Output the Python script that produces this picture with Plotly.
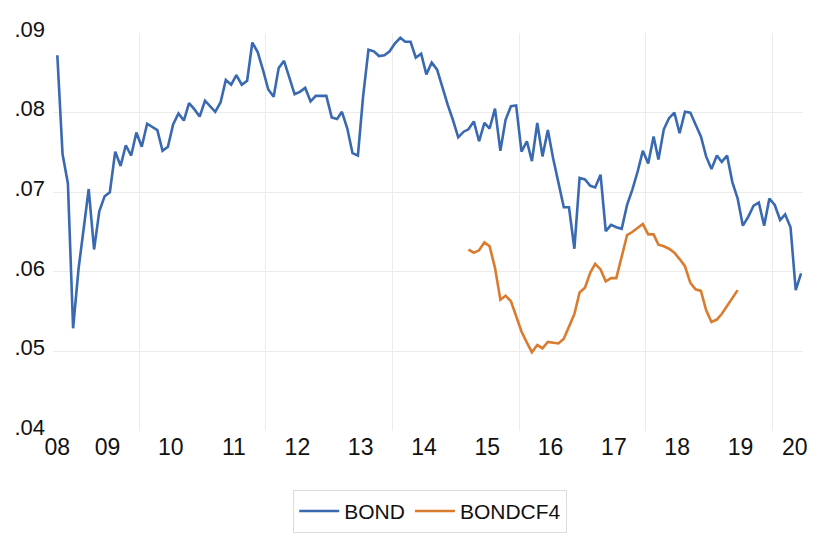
import pandas as pd
import plotly.graph_objects as go

# Monthly observations, Sep 2008 .. Jun 2020
start_month = "2008-09-01"
n_bond = 142

bond = [
    0.0872, 0.0748, 0.0711, 0.0529, 0.0603, 0.0655, 0.0704, 0.0628, 0.0676, 0.0695,
    0.0700, 0.0751, 0.0733, 0.0759, 0.0746, 0.0775, 0.0757, 0.0786, 0.0782, 0.0778,
    0.0752, 0.0757, 0.0785, 0.0799, 0.0790, 0.0812, 0.0804, 0.0795, 0.0815, 0.0808,
    0.0801, 0.0813, 0.0841, 0.0835, 0.0847, 0.0835, 0.0840, 0.0888, 0.0876, 0.0854,
    0.0829, 0.0820, 0.0856, 0.0865, 0.0845, 0.0823, 0.0826, 0.0831, 0.0814, 0.0821,
    0.0821, 0.0821, 0.0794, 0.0792, 0.0801, 0.0780, 0.0749, 0.0746, 0.0820, 0.0879,
    0.0877, 0.0871, 0.0872, 0.0877, 0.0887, 0.0894, 0.0889, 0.0889, 0.0869, 0.0874,
    0.0848, 0.0863, 0.0854, 0.0831, 0.0810, 0.0791, 0.0769, 0.0776, 0.0779, 0.0789,
    0.0764, 0.0787, 0.0780, 0.0805, 0.0752, 0.0791, 0.0808, 0.0809, 0.0751, 0.0764,
    0.0739, 0.0787, 0.0745, 0.0778, 0.0743, 0.0712, 0.0681, 0.0681, 0.0629, 0.0718,
    0.0716, 0.0708, 0.0706, 0.0722, 0.0651, 0.0659, 0.0656, 0.0654, 0.0684, 0.0703,
    0.0726, 0.0752, 0.0736, 0.0770, 0.0741, 0.0779, 0.0793, 0.0800, 0.0774, 0.0801,
    0.0800, 0.0785, 0.0770, 0.0745, 0.0729, 0.0746, 0.0738, 0.0746, 0.0713, 0.0692,
    0.0658, 0.0669, 0.0683, 0.0687, 0.0658, 0.0692, 0.0684, 0.0665, 0.0672, 0.0656,
    0.0577, 0.0598,
]

# BONDCF4 starts at observation 78 (Mar 2015)
cf4_offset = 78
bondcf4 = [
    0.0628, 0.0624, 0.0627, 0.0637, 0.0632, 0.0605, 0.0565, 0.0570, 0.0563, 0.0544,
    0.0525, 0.0511, 0.0499, 0.0508, 0.0504, 0.0512, 0.0511, 0.0510, 0.0516, 0.0532,
    0.0547, 0.0574, 0.0580, 0.0599, 0.0610, 0.0603, 0.0588, 0.0592, 0.0592, 0.0619,
    0.0646, 0.0650, 0.0655, 0.0660, 0.0647, 0.0647, 0.0634, 0.0632, 0.0629, 0.0624,
    0.0616, 0.0607, 0.0586, 0.0578, 0.0576, 0.0552, 0.0537, 0.0540, 0.0547, 0.0557,
    0.0568, 0.0577,
]

x_tick_dates = ["2008-09-15", "2009-07-01", "2010-07-01", "2011-07-01", "2012-07-01",
                "2013-07-01", "2014-07-01", "2015-07-01", "2016-07-01", "2017-07-01",
                "2018-07-01", "2019-07-01", "2020-05-10"]
x_tick_text = ["08", "09", "10", "11", "12", "13", "14", "15", "16", "17", "18", "19", "20"]
x_grid_dates = ["2010-01-01", "2012-01-01", "2014-01-01", "2016-01-01", "2018-01-01", "2020-01-01"]

y_tick_vals = [0.04, 0.05, 0.06, 0.07, 0.08, 0.09]
y_tick_text = [".04", ".05", ".06", ".07", ".08", ".09"]
y_grid_vals = [0.05, 0.06, 0.07, 0.08]

dates = pd.date_range(start_month, periods=n_bond, freq="MS") + pd.Timedelta(days=14)
dates_cf4 = dates[cf4_offset:cf4_offset + len(bondcf4)]

BLUE = "#396AB1"
ORANGE = "#DA7C30"
GRID = "#EBEBEB"
FONT = "Liberation Sans"

fig = go.Figure()
fig.add_trace(go.Scatter(x=dates, y=bond, mode="lines", name="BOND",
                         line=dict(color=BLUE, width=2.6)))
fig.add_trace(go.Scatter(x=dates_cf4, y=bondcf4, mode="lines", name="BONDCF4",
                         line=dict(color=ORANGE, width=2.6)))

# page body adds an 8px offset, so the figure is sized to fit inside the window
fig.update_layout(
    width=811, height=533,
    margin=dict(l=45, r=16, t=25, b=110, autoexpand=False),
    paper_bgcolor="white", plot_bgcolor="white",
    font=dict(family=FONT, color="#111111"),
    showlegend=True,
    legend=dict(orientation="h", x=0.503, xanchor="center", y=-0.148, yanchor="top",
                bordercolor="#DCDCDC", borderwidth=1, font=dict(size=21, family=FONT),
                itemwidth=40),
)
fig.update_xaxes(
    type="date", automargin=False,
    range=["2008-08-21", "2020-06-26"],
    tickmode="array", tickvals=x_tick_dates, ticktext=x_tick_text,
    tickfont=dict(size=23, family=FONT),
    showgrid=False, zeroline=False, showline=False, ticks="",
    minor=dict(tickmode="array", tickvals=x_grid_dates, showgrid=True,
               gridcolor=GRID, gridwidth=1, ticks=""),
)
fig.update_yaxes(
    automargin=False,
    range=[0.04, 0.09],
    tickmode="array", tickvals=y_tick_vals, ticktext=y_tick_text,
    tickfont=dict(size=22, family=FONT),
    showgrid=False, zeroline=False, showline=False, ticks="",
    ticklabelshift=-4, ticklabelstandoff=7,
    minor=dict(tickmode="array", tickvals=y_grid_vals, showgrid=True,
               gridcolor=GRID, gridwidth=1, ticks=""),
)

fig.write_html("out.html")
